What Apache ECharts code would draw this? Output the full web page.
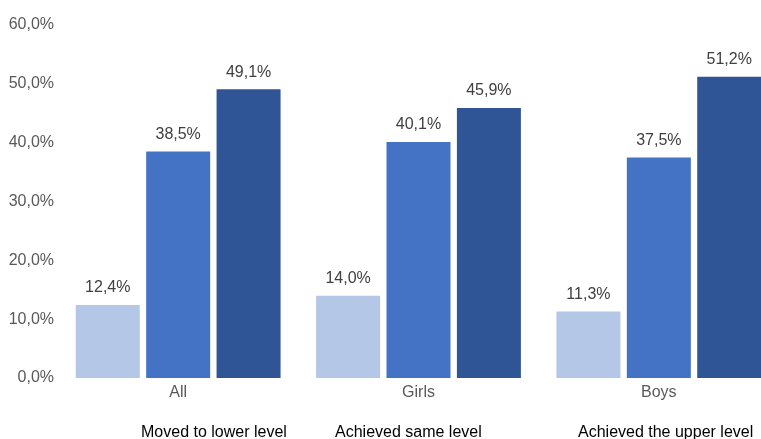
<!DOCTYPE html>
<html>
<head>
<meta charset="utf-8">
<script src="https://cdn.jsdelivr.net/npm/echarts@6/dist/echarts.min.js"></script>
<style>
  html, body { margin: 0; padding: 0; background: #fff; }
  #main { width: 761px; height: 439px; }
</style>
</head>
<body>
<div id="main"></div>
<script>
// categories and series
var categories = ['All', 'Girls', 'Boys'];
var seriesNames = ['Moved to lower level', 'Achieved same level', 'Achieved the upper level'];
var lowerLevel = [12.4, 14.0, 11.3];
var sameLevel = [38.5, 40.1, 37.5];
var upperLevel = [49.1, 45.9, 51.2];
var yTicks = [0, 10, 20, 30, 40, 50, 60];

var colors = ['#B4C7E7', '#4472C4', '#2F5597'];
var font = '"Liberation Sans", Arial, sans-serif';

function pct(v) {
  return Number(v).toFixed(1).replace('.', ',') + '%';
}

var chart = echarts.init(document.getElementById('main'));

function makeSeries(name, data, i) {
  return {
    name: name,
    type: 'bar',
    data: data,
    barWidth: 64,
    barGap: '10%',
    itemStyle: { color: colors[i] },
    label: {
      show: true,
      position: 'top',
      distance: 9,
      color: '#404040',
      fontSize: 16,
      fontFamily: font,
      formatter: function (p) { return pct(p.value); }
    }
  };
}

// one legend per series so each text sits under its own group
var legendLeft = [131, 325, 568];
var legends = seriesNames.map(function (n, i) {
  return {
    data: [n],
    left: legendLeft[i],
    top: 420,
    icon: 'none',
    itemWidth: 0,
    itemGap: 0,
    selectedMode: false,
    textStyle: { color: '#000', fontSize: 16, fontFamily: font }
  };
});

var option = {
  backgroundColor: '#fff',
  animation: false,
  legend: legends,
  // the plot runs past the right edge of the picture, as in the original crop
  grid: { left: 58, width: 721, top: 25, bottom: 61, containLabel: false, outerBoundsMode: 'none' },
  xAxis: {
    type: 'category',
    data: categories,
    axisLine: { show: false },
    axisTick: { show: false },
    axisLabel: { color: '#595959', fontSize: 16, fontFamily: font, margin: 7 }
  },
  yAxis: {
    type: 'value',
    min: yTicks[0],
    max: yTicks[yTicks.length - 1],
    interval: 10,
    splitLine: { show: false },
    axisLine: { show: false },
    axisTick: { show: false },
    axisLabel: {
      color: '#595959',
      fontSize: 16,
      fontFamily: font,
      margin: 4,
      formatter: function (v) { return pct(v); }
    }
  },
  series: [
    makeSeries(seriesNames[0], lowerLevel, 0),
    makeSeries(seriesNames[1], sameLevel, 1),
    makeSeries(seriesNames[2], upperLevel, 2)
  ]
};

chart.setOption(option);
</script>
</body>
</html>
